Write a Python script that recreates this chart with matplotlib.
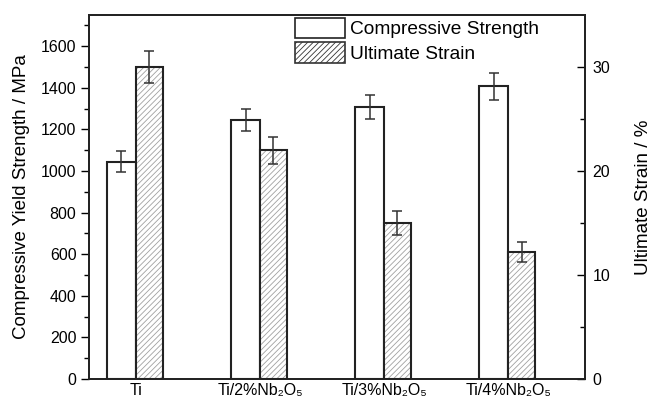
import matplotlib
matplotlib.use("Agg")
import matplotlib.pyplot as plt
import numpy as np
from matplotlib.patches import Patch

plt.rcParams['font.family'] = ['Liberation Sans', 'DejaVu Sans']
plt.rcParams['hatch.linewidth'] = 0.6

categories = ['Ti', 'Ti/2%Nb₂O₅', 'Ti/3%Nb₂O₅', 'Ti/4%Nb₂O₅']
strength = [1045, 1245, 1309, 1408]
strength_err = [50, 52, 57, 65]
strain = [30.0, 22.0, 15.0, 12.2]
strain_err = [1.5, 1.3, 1.15, 0.95]

fig = plt.figure(figsize=(6.54, 4.01), dpi=100)
ax = fig.add_axes([0.136, 0.0549, 0.7585, 0.9077])
ax2 = ax.twinx()

x = np.arange(1, len(categories) + 1)
w1 = 0.234
w2 = 0.214

ax.bar(x - w1 / 2, strength, width=w1, color='white', edgecolor='#222222', linewidth=1.5, zorder=2)
ax.errorbar(x - w1 / 2, strength, yerr=strength_err, fmt='none', ecolor='#333333', elinewidth=1.1,
            capsize=3.3, capthick=1.1, zorder=3)

ax2.bar(x + w2 / 2, strain, width=w2, color='white', edgecolor='#a0a0a0', hatch='//////', linewidth=0, zorder=2)
ax2.bar(x + w2 / 2, strain, width=w2, color='none', edgecolor='#222222', linewidth=1.5, zorder=2.5)
ax2.errorbar(x + w2 / 2, strain, yerr=strain_err, fmt='none', ecolor='#333333', elinewidth=1.1,
             capsize=3.3, capthick=1.1, zorder=3)

ax.set_xlim(0.621, 4.618)
ax.set_ylim(0, 1750)
ax2.set_ylim(0, 35)

ax.set_xticks(x)
ax.set_xticklabels(categories, fontsize=11.5)
ax.tick_params(axis='x', length=0, pad=3)

ax.set_yticks(np.arange(0, 1601, 200))
ax.set_yticks(np.arange(100, 1701, 200), minor=True)
ax.tick_params(axis='y', which='major', direction='out', length=6, width=1, labelsize=11.5, pad=3)
ax.tick_params(axis='y', which='minor', direction='out', length=3.5, width=1)

ax2.set_yticks([0, 10, 20, 30])
ax2.set_yticks([5, 15, 25], minor=True)
ax2.tick_params(axis='y', which='major', direction='in', length=6, width=1, labelsize=11.5, pad=5.5)
ax2.tick_params(axis='y', which='minor', direction='in', length=3.5, width=1)

ax.set_ylabel('Compressive Yield Strength / MPa', fontsize=13.5, labelpad=8)
ax2.set_ylabel('Ultimate Strain / %', fontsize=13.5, labelpad=18)

for a in (ax, ax2):
    for s in a.spines.values():
        s.set_linewidth(1.3)
        s.set_color('#222222')

handles = [Patch(facecolor='white', edgecolor='#222222', linewidth=1.2),
           Patch(facecolor='white', edgecolor='#333333', hatch='//////', linewidth=1.2)]
leg = ax2.legend(handles, ['Compressive Strength', 'Ultimate Strain'], loc='upper left',
                 bbox_to_anchor=(0.415, 0.992), frameon=False, fontsize=13.8,
                 handlelength=2.6, handleheight=1.25, labelspacing=0.2, handletextpad=0.3,
                 borderpad=0, borderaxespad=0)

fig.savefig('out.png', dpi=100)
